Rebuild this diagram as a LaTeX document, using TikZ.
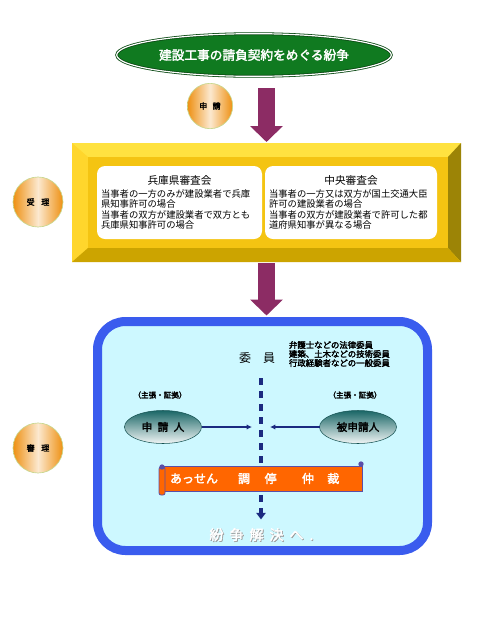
\documentclass[tikz,border=0pt]{standalone}
\usepackage{fontspec}
\setmainfont{Noto Sans CJK JP}[AutoFakeBold=2.5]
\usepackage{tikz}
\usepackage{xcolor}
\usetikzlibrary{calc,shapes.geometric,arrows.meta}

\definecolor{titlegreen}{HTML}{107A20}
\definecolor{stageorange}{HTML}{EE9012}
\definecolor{stagerim}{HTML}{C8D890}
\definecolor{arrowpurple}{HTML}{8C2C64}
\definecolor{bevtop}{HTML}{FFE240}
\definecolor{bevleft}{HTML}{FFD62C}
\definecolor{bevright}{HTML}{9C8406}
\definecolor{bevbottom}{HTML}{CCA400}
\definecolor{bevface}{HTML}{F4C412}
\definecolor{roundblue}{HTML}{3A5CEE}
\definecolor{roundcyan}{HTML}{CDF8FF}
\definecolor{partyteal}{HTML}{1A6666}
\definecolor{linknavy}{HTML}{1B2A80}
\definecolor{bannerorange}{HTML}{FF6600}
\definecolor{bannerline}{HTML}{5A4FA8}

\begin{document}
\begin{tikzpicture}[x=0.75pt,y=-0.75pt]
            \tikzstyle{every node}=[inner sep=0pt, outer sep=0pt]
            \tikzstyle{stage}=[circle, draw=stagerim, line width=0.5pt, left color=stageorange, right color=stageorange, middle color=white!80!stageorange, font=\fontsize{6}{6}\selectfont\bfseries]
            \tikzstyle{bigarrow}=[arrowpurple, line width=12.5pt, -{Triangle[width=24pt,length=12pt]}]
            \tikzstyle{council}=[fill=white, rounded corners=6pt, minimum height=54.75pt, inner xsep=3pt, align=left, font=\fontsize{7}{7.9}\selectfont]
            \tikzstyle{party}=[ellipse, draw=partyteal!80!black, line width=0.4pt, top color=partyteal, bottom color=partyteal!6, minimum width=57.75pt, minimum height=24.75pt, font=\fontsize{8}{8}\selectfont\bfseries]
            \tikzstyle{link}=[linknavy, line width=1.1pt, -{Latex[length=4pt,width=4pt]}]
            \tikzstyle{dashline}=[linknavy, line width=2.5pt, dash pattern=on 5.25pt off 4.5pt, -{Triangle[width=7pt,length=5pt]}]
            \useasboundingbox[fill=white] (0,0) rectangle (480,640);
            % Dispute
            \node (dispute) at (254,55) [ellipse, fill=titlegreen, draw=titlegreen!60!black, double=white, double distance=0.9pt, line width=0.6pt, minimum width=206pt, minimum height=32pt, text=white, font=\fontsize{9.5}{10}\selectfont\bfseries] {建設工事の請負契約をめぐる紛争};
            \node (apply) at (210,106) [stage, minimum size=34pt] {申\hspace{4pt}請};
            % Frame
            \node (frame) at (266.5,202.5) [minimum width=291.75pt, minimum height=89.25pt, fill=bevtop] {};
            \fill[bevleft] (frame.north west) -- ($(frame.north west)+(16,14)$) -- ($(frame.south west)+(16,-14)$) -- (frame.south west) -- cycle;
            \fill[bevright] (frame.north east) -- ($(frame.north east)+(-13,14)$) -- ($(frame.south east)+(-13,-14)$) -- (frame.south east) -- cycle;
            \fill[bevbottom] (frame.south west) -- ($(frame.south west)+(16,-14)$) -- ($(frame.south east)+(-13,-14)$) -- (frame.south east) -- cycle;
            \fill[bevface] ($(frame.north west)+(16,14)$) rectangle ($(frame.south east)+(-13,-14)$);
            \node (hyogo) at (179.5,202.5) [council, text width=117.75pt] {\hfill{\fontsize{8}{9}\selectfont 兵庫県審査会}\hfill\mbox{}\\[1.5pt]
                当事者の一方のみが建設業者で兵庫\\県知事許可の場合\\当事者の双方が建設業者で双方とも\\兵庫県知事許可の場合};
            \node (central) at (351,202.5) [council, text width=123pt] {\hfill{\fontsize{8}{9}\selectfont 中央審査会}\hfill\mbox{}\\[1.5pt]
                当事者の一方又は双方が国土交通大臣\\許可の建設業者の場合\\当事者の双方が建設業者で許可した都\\道府県知事が異なる場合};
            \node (accept) at (38,202) [stage, minimum size=37.5pt] {受\hspace{5pt}理};
            \draw[bigarrow, shorten <=9pt, shorten >=0.75pt] (dispute.south -| frame.north) -- (frame.north);
            % Hearing
            \node (hearing) at (262.5,436) [draw=roundblue, fill=roundcyan, line width=6.75pt, rounded corners=21pt, minimum width=247.5pt, minimum height=171.75pt] {};
            \draw[bigarrow, shorten <=0.75pt, shorten >=4.5pt] (frame.south) -- (frame.south |- hearing.north);
            \node (examine) at (38,448) [stage, minimum size=37.5pt] {審\hspace{5pt}理};
            \node (member) at (257,358) [font=\fontsize{9}{9}\selectfont] {委\hspace{9pt}員};
            \node (kinds) at (289,354) [anchor=west, align=left, font=\fontsize{6.3}{6.75}\selectfont\bfseries] {弁護士などの法律委員\\建築、土木などの技術委員\\行政経験者などの一般委員};
            \node (claimL) at (160,395) [font=\fontsize{5.7}{6}\selectfont\bfseries] {（主張・証拠）};
            \node (claimR) at (355,395) [font=\fontsize{5.7}{6}\selectfont\bfseries] {（主張・証拠）};
            \node (applicant) at (163,427) [party] {申\hspace{4pt}請\hspace{4pt}人};
            \node (respondent) at (358,427) [party] {被申請人};
            \coordinate (inL) at (252,427);
            \coordinate (inR) at (270,427);
            \draw[link] (applicant.east) -- (inL);
            \draw[link] (respondent.west) -- (inR);
            \node (result) at (261.5,535) [font=\fontsize{10.5}{11}\selectfont\bfseries] {\makebox[0pt][l]{\hspace{0.6pt}\raisebox{-0.6pt}{\textcolor{black!40}{紛\hspace{4.5pt}争\hspace{4.5pt}解\hspace{4.5pt}決\hspace{4.5pt}へ\hspace{4.5pt}.}}}\textcolor{white}{紛\hspace{4.5pt}争\hspace{4.5pt}解\hspace{4.5pt}決\hspace{4.5pt}へ\hspace{4.5pt}.}};
            \coordinate (dtop) at (261,378);
            \draw[dashline, shorten >=6.5pt] (dtop) -- (dtop |- result.north);
            % Scroll
            \node (settle) at (262,478.5) [fill=bannerorange, draw=bannerline, line width=0.6pt, minimum width=150pt, minimum height=18.75pt, inner xsep=6pt, text width=138pt, align=left, text=white, font=\fontsize{9}{9}\selectfont\bfseries] {あっせん\hspace{15pt}調\hspace{11pt}停\hspace{19pt}仲\hspace{10pt}裁};
            \filldraw[fill=bannerorange, draw=bannerline, line width=0.6pt, rounded corners=1.5pt] ($(settle.north west)+(-3,1)$) rectangle ($(settle.south west)+(3,4)$);
            \fill[bannerline] ($(settle.north west)+(0,1)$) circle (2pt);
            \fill[bannerline] ($(settle.north east)+(-1,-2)$) circle (2pt);
        \end{tikzpicture}
\end{document}
